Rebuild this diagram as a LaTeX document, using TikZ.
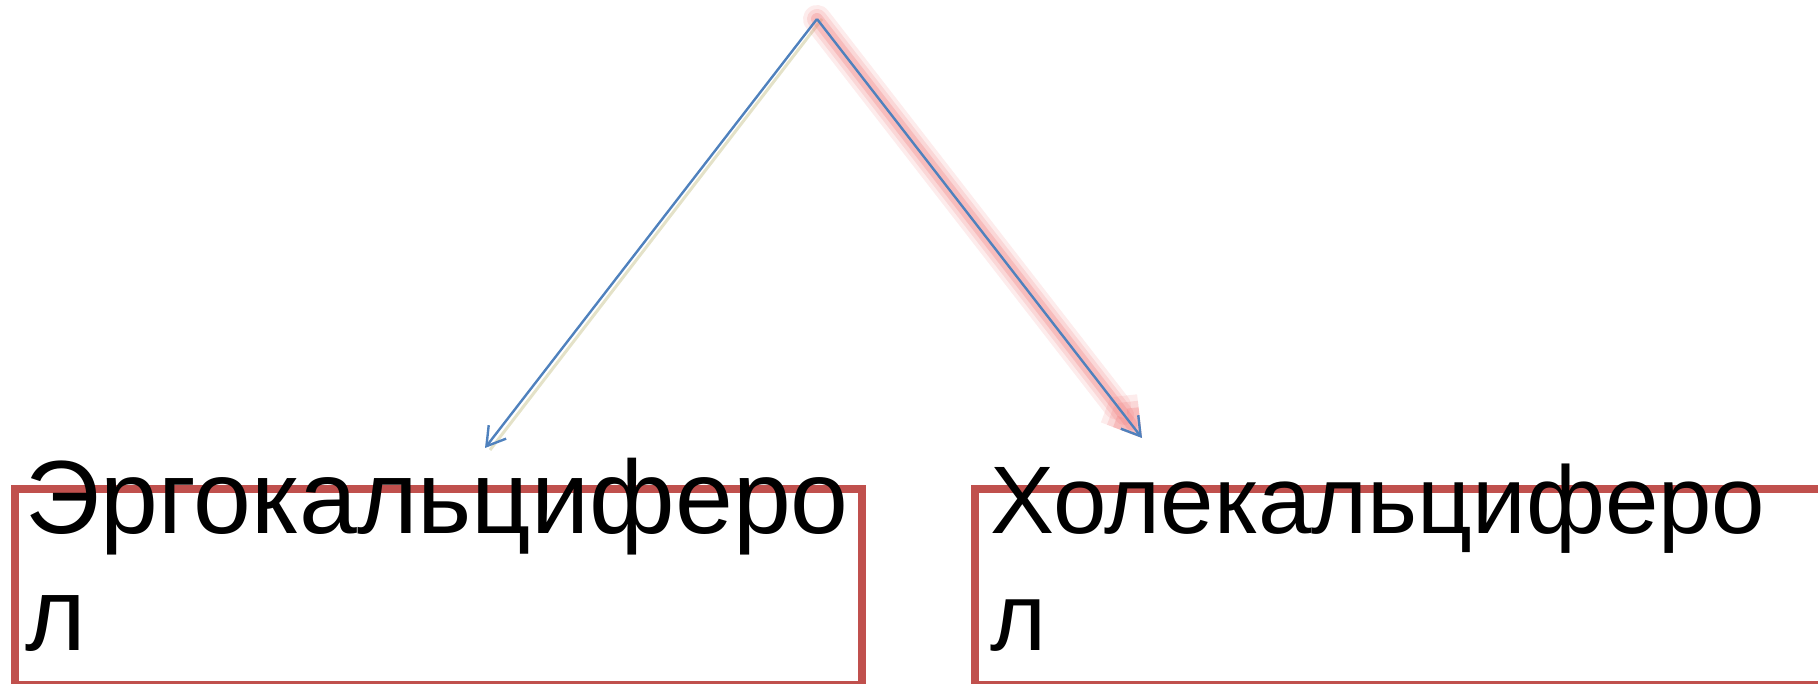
\documentclass[tikz,border=0pt]{standalone}
\usepackage{fontspec}
\setmainfont{Liberation Sans}
\usetikzlibrary{arrows.meta}
\definecolor{bordo}{HTML}{C0504D}
\definecolor{freccia}{HTML}{4F81BD}
\definecolor{alone}{HTML}{F08080}
\definecolor{ombra}{HTML}{E4E2C8}
\tikzset{
  riquadro/.style={draw=bordo, line width=3.75pt, minimum width=423.5pt,
    minimum height=98pt, anchor=north west, inner sep=0pt},
  testo/.style={anchor=base west, inner sep=0pt, align=left,
    font=\fontsize{52}{58.5}\selectfont},
  punta/.style={-{Straight Barb[length=9pt,width=11pt]}, draw=freccia,
    line width=1.2pt},
}
\begin{document}
\begin{tikzpicture}[x=0.5pt, y=-0.5pt]
\useasboundingbox (0,0) rectangle (1818,684);
% riquadri
\node[riquadro] (ergo) at (11,485) {};
\node[riquadro] (cole) at (971,485) {};
% testi
\node[testo] (ergotesto) at (25,650) {Эргокальциферо\\л};
\node[testo, font=\fontsize{48}{58.5}\selectfont] (coletesto) at (990,650) {Холекальциферо\\л};
% frecce
\coordinate (vertice) at (817,19);
\coordinate (puntasx) at (485,448);
\coordinate (puntadx) at (1142,438);
\draw[ombra, line width=1.5pt] ([xshift=2.5pt]vertice) -- ([xshift=2.5pt,yshift=-1pt]puntasx);
\foreach \w/\o in {14/0.15, 10/0.2, 6/0.3} {
  \draw[alone, line width=\w pt, opacity=\o, line cap=round, line join=round,
    -{Straight Barb[length=9pt,width=11pt]}] (vertice) -- (puntadx);
}
\draw[punta] (vertice) -- (puntasx);
\draw[punta] (vertice) -- (puntadx);
\end{tikzpicture}
\end{document}
